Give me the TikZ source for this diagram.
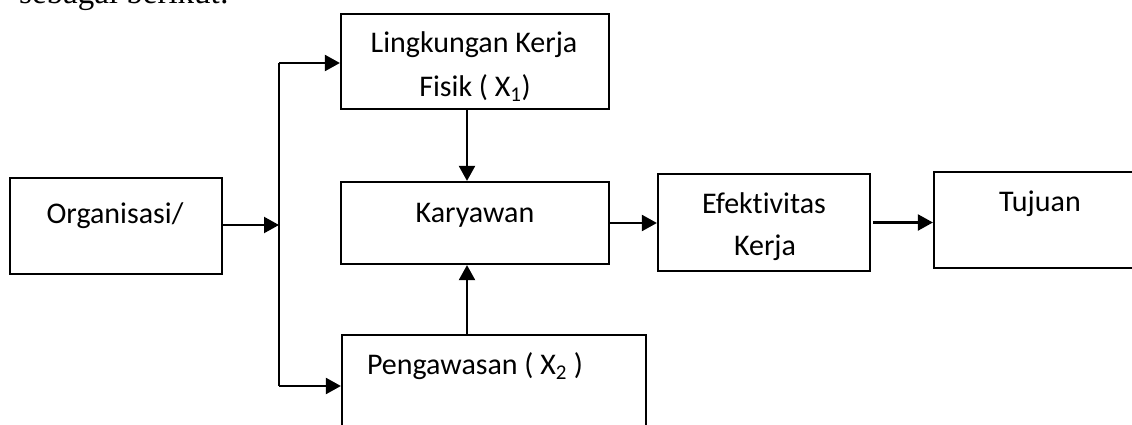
\documentclass[tikz,border=0pt]{standalone}
\usepackage{fontspec}
\setmainfont{Carlito}[Ligatures={NoCommon}]
\newfontfamily\serifface{Liberation Serif}
\usetikzlibrary{arrows.meta}
\tikzset{
  box/.style={draw, line width=2.2pt, rectangle, inner sep=0pt},
  lbl/.style={anchor=base, inner sep=0pt, font=\fontsize{30}{36}\selectfont},
  arr/.style={line width=2.2pt, -{Triangle[length=15pt,width=16pt]}},
  ln/.style={line width=2.2pt},
}
\begin{document}
\begin{tikzpicture}[x=1pt,y=-1pt]
\useasboundingbox (0,0) rectangle (1132,425);
% cut-off heading text
\node[anchor=base west, inner sep=0pt, font=\serifface\fontsize{33}{38}\selectfont] (head) at (19,4) {sebagai berikut:};
% boxes
\node[box, minimum width=212pt, minimum height=96pt] (org) at (116,226) {};
\node[box, minimum width=268pt, minimum height=95pt] (ling) at (475,61.5) {};
\node[box, minimum width=268pt, minimum height=82pt] (kar) at (475,223) {};
\node[box, minimum width=212pt, minimum height=97pt] (eff) at (764,222.5) {};
\node[box, minimum width=212pt, minimum height=96pt] (tuj) at (1040,220) {};
\node[box, minimum width=304pt, minimum height=102pt] (peng) at (494,386) {};
% labels
\node[lbl] (torg) at (115,223) {Organisasi/};
\node[lbl] (tling1) at (474,53) {Lingkungan Kerja};
\node[lbl] (tling2) at (475,97) {Fisik ( X\textsubscript{1})};
\node[lbl] (tkar) at (475,222) {Karyawan};
\node[lbl] (teff1) at (764,213) {Efektivitas};
\node[lbl] (teff2) at (765,255) {Kerja};
\node[lbl] (ttuj) at (1040,211) {Tujuan};
\node[lbl] (tpeng) at (475,374) {Pengawasan ( X\textsubscript{2} )};
% junction
\coordinate (j) at (279,225);
\coordinate (jt) at (279,63);
\coordinate (jb) at (279,386);
% connectors
\draw[arr] (org.east |- j) -- (j);
\draw[ln] (jt) -- (jb);
\draw[arr] (jt) -- (jt -| ling.west);
\draw[arr] (jb) -- (jb -| peng.west);
\draw[arr] ([xshift=-8pt]ling.south) -- ([xshift=-8pt]kar.north);
\draw[arr] ([xshift=-8pt]kar.south |- peng.north) -- ([xshift=-8pt]kar.south);
\draw[arr] (kar.east) -- (kar.east -| eff.west);
\draw[arr] ([xshift=2pt]eff.east) -- (eff.east -| tuj.west);
\end{tikzpicture}
\end{document}
